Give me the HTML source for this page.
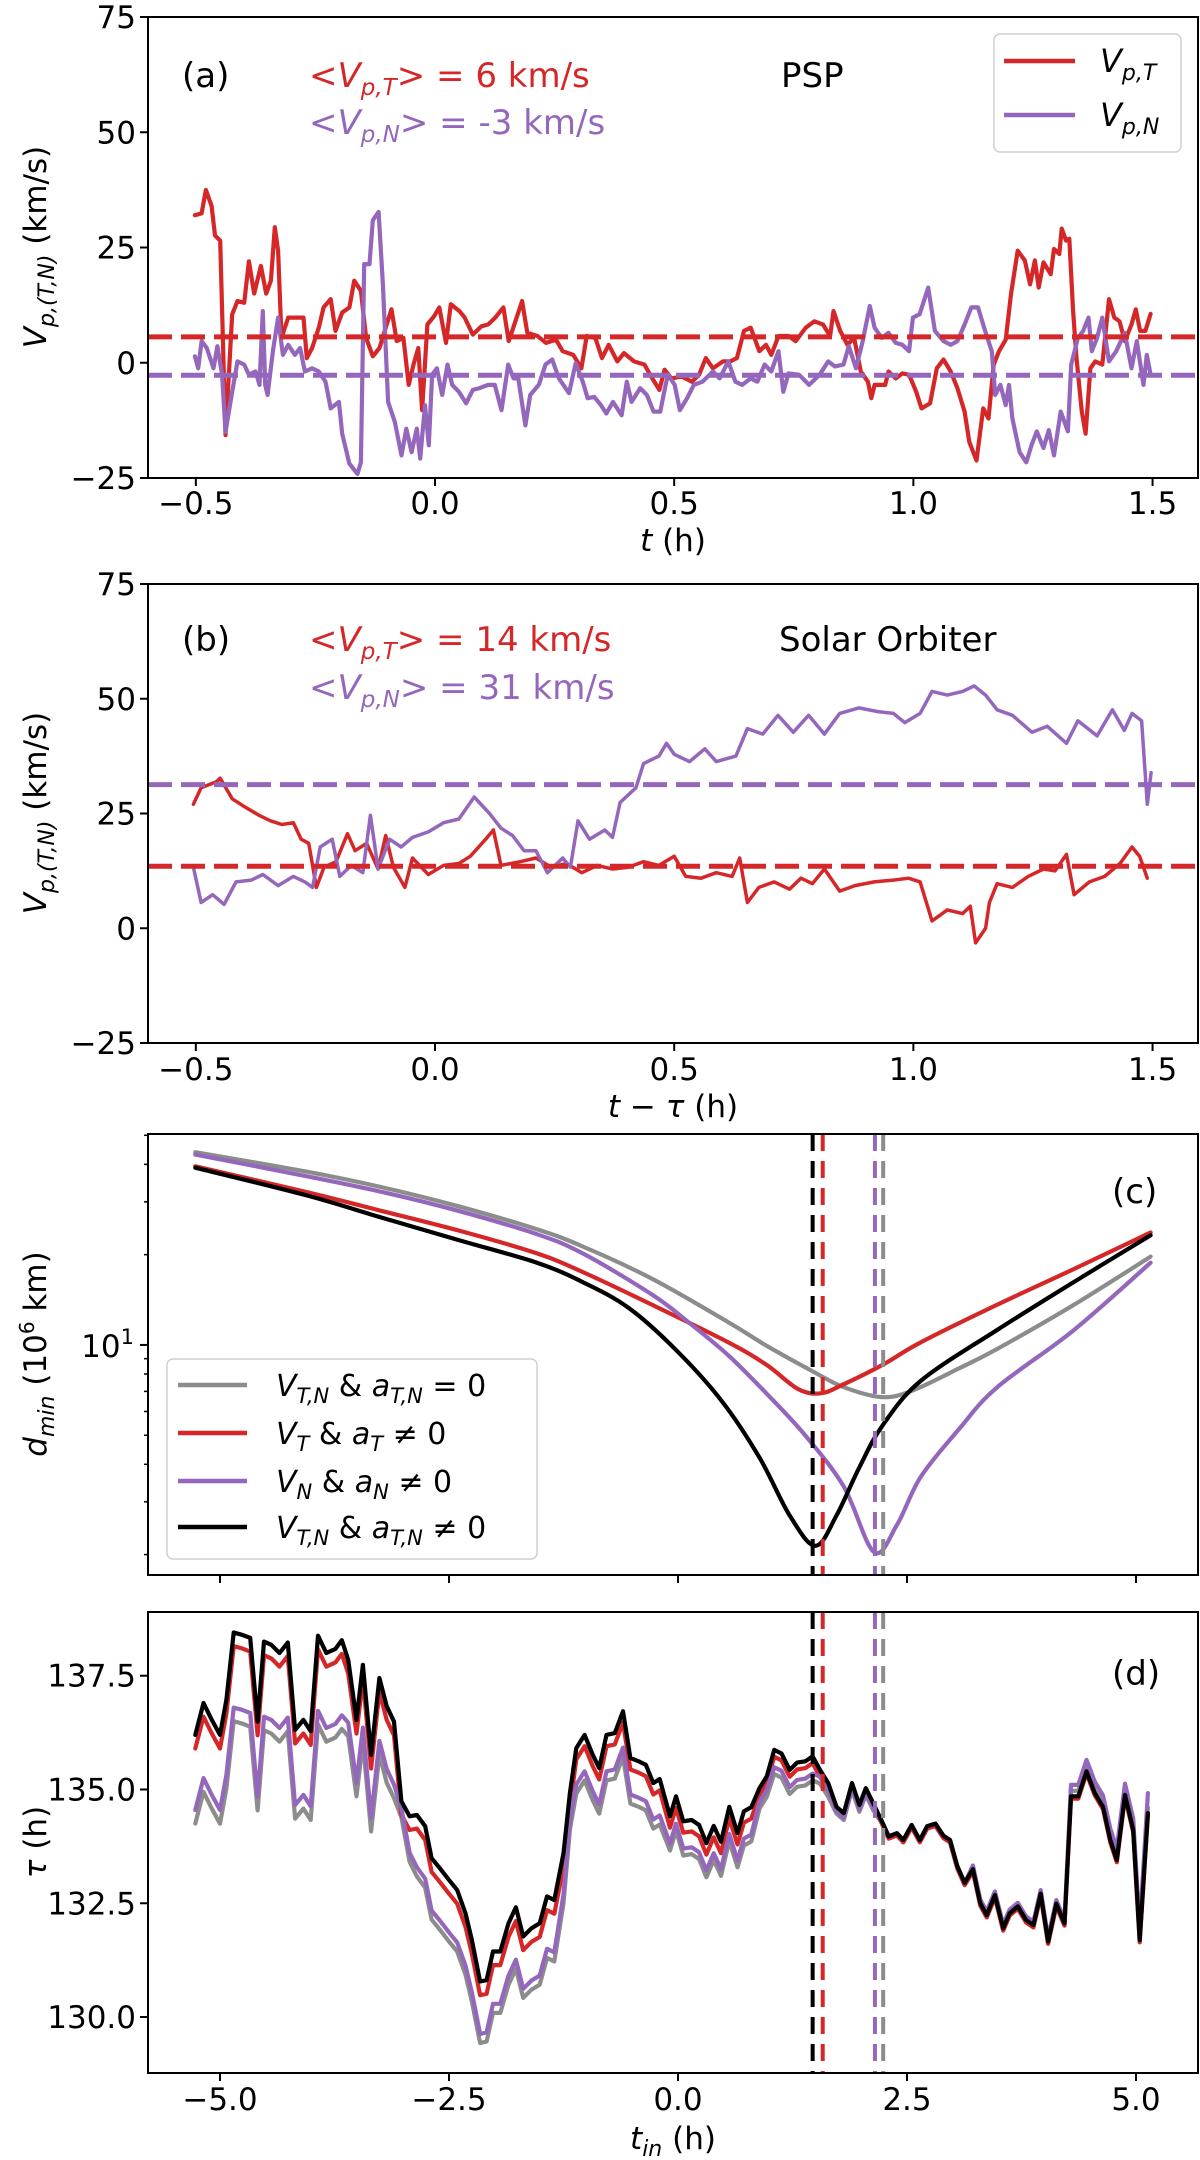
<!DOCTYPE html>
<html><head><meta charset="utf-8">
<style>
html,body{margin:0;padding:0;background:#fff;}
svg{display:block;font-family:"DejaVu Sans","Liberation Sans",sans-serif;}
</style></head>
<body>
<svg id="fig" xmlns="http://www.w3.org/2000/svg" width="1200" height="2160" viewBox="0 0 1200 2160">
<rect x="0" y="0" width="1200" height="2160" fill="#fff"/>
<g id="layer"></g>
<!-- static annotations -->
<g font-size="34">
<text x="182" y="87">(a)</text>
<text x="309" y="87" fill="#d62728">&lt;<tspan font-style="italic">V</tspan><tspan font-style="italic" font-size="23" dy="8">p,T</tspan><tspan dy="-8">&gt; = 6 km/s</tspan></text>
<text x="309" y="134" fill="#9467bd">&lt;<tspan font-style="italic">V</tspan><tspan font-style="italic" font-size="23" dy="8">p,N</tspan><tspan dy="-8">&gt; = -3 km/s</tspan></text>
<text x="781" y="87">PSP</text>
<text x="182" y="651">(b)</text>
<text x="309" y="651" fill="#d62728">&lt;<tspan font-style="italic">V</tspan><tspan font-style="italic" font-size="23" dy="8">p,T</tspan><tspan dy="-8">&gt; = 14 km/s</tspan></text>
<text x="309" y="699" fill="#9467bd">&lt;<tspan font-style="italic">V</tspan><tspan font-style="italic" font-size="23" dy="8">p,N</tspan><tspan dy="-8">&gt; = 31 km/s</tspan></text>
<text x="779" y="651">Solar Orbiter</text>
<text x="1112" y="1203">(c)</text>
<text x="1112" y="1685">(d)</text>
</g>
<g font-size="31">
<text x="673" y="551" text-anchor="middle"><tspan font-style="italic">t</tspan> (h)</text>
<text x="673" y="1117" text-anchor="middle"><tspan font-style="italic">t</tspan> − <tspan font-style="italic">τ</tspan> (h)</text>
<text x="673" y="2149" text-anchor="middle"><tspan font-style="italic">t</tspan><tspan font-style="italic" font-size="22" dy="7">in</tspan><tspan dy="-7"> (h)</tspan></text>
<text transform="translate(46,247) rotate(-90)" text-anchor="middle"><tspan font-style="italic">V</tspan><tspan font-style="italic" font-size="22" dy="8">p,(T,N)</tspan><tspan dy="-8"> (km/s)</tspan></text>
<text transform="translate(46,813) rotate(-90)" text-anchor="middle"><tspan font-style="italic">V</tspan><tspan font-style="italic" font-size="22" dy="8">p,(T,N)</tspan><tspan dy="-8"> (km/s)</tspan></text>
<text transform="translate(46,1354) rotate(-90)" text-anchor="middle"><tspan font-style="italic">d</tspan><tspan font-style="italic" font-size="22" dy="8">min</tspan><tspan dy="-8"> (10</tspan><tspan font-size="20" dy="-12">6</tspan><tspan dy="12"> km)</tspan></text>
<text transform="translate(46,1842) rotate(-90)" text-anchor="middle"><tspan font-style="italic">τ</tspan> (h)</text>
</g>
<!-- legend a -->
<g>
<rect x="994" y="34" width="187" height="118" rx="6" fill="#fff" fill-opacity="0.85" stroke="#d0d0d0" stroke-width="1.5"/>
<line x1="1004" y1="61" x2="1075" y2="61" stroke="#d62728" stroke-width="4.5"/>
<text x="1100" y="72" font-size="32" font-style="italic">V<tspan font-size="22" dy="8">p,T</tspan></text>
<line x1="1004" y1="115" x2="1075" y2="115" stroke="#9467bd" stroke-width="4.5"/>
<text x="1100" y="126" font-size="32" font-style="italic">V<tspan font-size="22" dy="8">p,N</tspan></text>
</g>
<!-- legend c -->
<g font-size="30">
<rect x="167" y="1359" width="370" height="200" rx="6" fill="#fff" fill-opacity="0.85" stroke="#d0d0d0" stroke-width="1.5"/>
<line x1="178" y1="1385" x2="247" y2="1385" stroke="#8c8c8c" stroke-width="4.5"/>
<text x="276" y="1396"><tspan font-style="italic">V</tspan><tspan font-style="italic" font-size="21" dy="7">T,N</tspan><tspan dy="-7"> &amp; </tspan><tspan font-style="italic">a</tspan><tspan font-style="italic" font-size="21" dy="7">T,N</tspan><tspan dy="-7"> = 0</tspan></text>
<line x1="178" y1="1433" x2="247" y2="1433" stroke="#d62728" stroke-width="4.5"/>
<text x="276" y="1444"><tspan font-style="italic">V</tspan><tspan font-style="italic" font-size="21" dy="7">T</tspan><tspan dy="-7"> &amp; </tspan><tspan font-style="italic">a</tspan><tspan font-style="italic" font-size="21" dy="7">T</tspan><tspan dy="-7"> ≠ 0</tspan></text>
<line x1="178" y1="1481" x2="247" y2="1481" stroke="#9467bd" stroke-width="4.5"/>
<text x="276" y="1492"><tspan font-style="italic">V</tspan><tspan font-style="italic" font-size="21" dy="7">N</tspan><tspan dy="-7"> &amp; </tspan><tspan font-style="italic">a</tspan><tspan font-style="italic" font-size="21" dy="7">N</tspan><tspan dy="-7"> ≠ 0</tspan></text>
<line x1="178" y1="1527" x2="247" y2="1527" stroke="#000" stroke-width="4.5"/>
<text x="276" y="1538"><tspan font-style="italic">V</tspan><tspan font-style="italic" font-size="21" dy="7">T,N</tspan><tspan dy="-7"> &amp; </tspan><tspan font-style="italic">a</tspan><tspan font-style="italic" font-size="21" dy="7">T,N</tspan><tspan dy="-7"> ≠ 0</tspan></text>
</g>
</svg>
<script>
// ---------- panel (a) PSP ----------
const tA_T=[-0.502,-0.488,-0.479,-0.467,-0.460,-0.449,-0.438,-0.424,-0.413,-0.399,-0.389,-0.378,-0.364,-0.353,-0.343,-0.335,-0.328,-0.321,-0.307,-0.293,-0.275,-0.268,-0.257,-0.243,-0.233,-0.218,-0.208,-0.194,-0.179,-0.169,-0.155,-0.144,-0.130,-0.116,-0.101,-0.091,-0.080,-0.066,-0.055,-0.045,-0.035,-0.027,-0.016,-0.002,0.009,0.023,0.033,0.051,0.062,0.079,0.097,0.111,0.126,0.143,0.154,0.168,0.182,0.193,0.214,0.232,0.253,0.267,0.289,0.306,0.317,0.335,0.349,0.363,0.381,0.395,0.416,0.438,0.452,0.469,0.480,
0.494,0.516,0.537,0.552,0.566,0.581,0.602,0.617,0.631,0.646,0.660,0.678,0.692,0.703,0.718,0.739,0.754,0.775,0.793,0.811,0.826,0.833,0.847,0.862,0.876,0.890,0.905,0.912,0.919,0.941,0.948,0.963,0.977,0.991,1.006,1.017,1.035,1.049,1.063,1.078,1.092,1.107,1.117,1.132,1.146,1.157,1.168,1.179,1.193,1.204,1.218,1.233,1.244,1.254,1.262,1.272,1.287,1.294,1.305,1.310,1.319,1.326,1.334,1.341,1.352,1.360,1.370,1.380,1.395,1.409,1.420,1.431,1.442,1.456,1.465,1.474,1.485,1.496];
const vA_T=[32,32.4,37.5,34,27.6,26.5,-15.7,10.5,13.4,13,22,15,21,15,17.8,29.4,24.3,5.4,9.8,9.8,9.8,1,3.2,7.6,12,13.8,6.9,10.9,12,17.8,15.6,5.4,1.4,3.2,8.3,11.6,4.7,5.4,-4.8,-0.4,3.2,-10.3,8.3,10.1,12,4.3,12.7,11.2,9.8,6.1,7.9,8.3,9.8,12,4.7,9,13.4,6.5,5.8,4.3,5,2.5,1.7,-1.2,5.8,5.4,1,3.9,0.3,2.1,0.3,-0.4,-3,-5.9,-1.5,
-3.4,-3,-4.1,-2.6,1,-1.2,0.3,0.3,1,6.9,7.6,2.5,3.9,1.7,5.8,5.8,4.7,7.6,9,8.3,5.8,11.2,6.9,3.9,5.4,-1.9,-4.1,-7.7,-4.8,-4.8,-1.9,-3.4,-2.3,-2.6,-6.3,-9.9,-8.8,-1.2,0.7,-1.9,-5.5,-10.6,-17.2,-21.2,-9.9,-12.1,-0.4,2.5,5,14.9,24.3,22.2,17,22.2,16.3,21.8,19.2,24.7,23.6,29.1,26.5,26.9,11.2,1,-10.6,-15.4,-1.2,0.3,-0.4,13.8,9.8,9,4.7,8.3,11.6,6.9,6.9,10.6];
const tA_N=[-0.502,-0.495,-0.488,-0.477,-0.463,-0.455,-0.445,-0.438,-0.424,-0.413,-0.399,-0.389,-0.375,-0.367,-0.360,-0.355,-0.350,-0.339,-0.328,-0.318,-0.307,-0.293,-0.282,-0.272,-0.257,-0.243,-0.229,-0.218,-0.201,-0.194,-0.179,-0.162,-0.155,-0.148,-0.137,-0.130,-0.118,-0.109,-0.098,-0.084,-0.070,-0.060,-0.049,-0.038,-0.031,-0.021,-0.013,-0.006,0.004,0.015,0.026,0.036,0.050,0.065,0.079,0.093,0.111,0.125,0.139,0.153,0.164,0.174,0.189,0.199,0.217,0.231,0.245,0.259,0.280,0.294,0.309,0.319,0.333,0.347,0.358,0.372,0.390,0.401,0.411,0.429,0.443,0.457,0.471,0.482,
0.487,0.501,0.512,0.527,0.541,0.559,0.581,0.595,0.613,0.628,0.642,0.660,0.674,0.689,0.703,0.718,0.728,0.739,0.761,0.782,0.804,0.822,0.836,0.854,0.865,0.880,0.894,0.909,0.919,0.934,0.948,0.963,0.977,0.991,0.999,1.013,1.031,1.045,1.063,1.078,1.092,1.107,1.121,1.135,1.150,1.164,1.171,1.182,1.193,1.200,1.207,1.222,1.236,1.247,1.258,1.272,1.283,1.294,1.308,1.323,1.330,1.344,1.355,1.366,1.373,1.384,1.395,1.409,1.424,1.442,1.456,1.467,1.481,1.488,1.496];
const vA_N=[1.4,-1.2,4.7,3.2,-1.2,3.6,-2.6,-15,-6.3,0.3,-0.4,-2.6,-1.9,-4.8,11.2,-4.8,-7,2.5,9.8,1.7,3.9,1.7,3.2,-1.9,-1.2,-1.9,-4.1,-9.9,-8.5,-15.4,-21.9,-24.1,-21.6,21.4,21.4,30.9,32.7,17,-8.5,-12.8,-20.1,-14.3,-19.4,-14.3,-20.8,-9.2,-17.9,-2.6,-1.2,-7,-0.4,-4.8,-6.3,-8.8,-5.9,-5.5,-4.8,-4.8,-10.3,-0.4,-3.4,-3.4,-13.6,-7,-4.8,-0.4,0.7,-3.4,-6.6,-0.1,-4.1,-7.7,-7.4,-9.2,-11,-8.5,-11.4,-4.1,-8.5,-5.5,-7,-10.6,-10.6,-4.8,
-2.6,-4.8,-10.3,-7.7,-4.8,-4.1,-1.9,-3.4,0.3,-4.1,-4.8,-3.4,-4.1,-0.4,-1.9,2.5,-6.3,-2.3,-2.6,-4.8,-2.6,0.3,-0.8,-0.4,3.6,-1.2,4.7,12.3,7.6,5.4,6.5,4.3,3.9,2.5,9.8,10.5,16.3,6.9,4.7,3.9,4.7,8.3,12,12,6.9,2.5,-7,-4.8,-9.2,-4.8,-12.1,-19.4,-21.6,-17.9,-14.9,-18.5,-14.6,-20.1,-10.6,-14.9,-0.4,5.4,6.9,9.8,2.5,5.4,9.8,0.3,2.5,6.5,-1.2,4.7,-4.8,1.7,-2.6];
const meanA=[5.6,-2.7];
// ---------- panel (b) Solar Orbiter ----------
const tB_T=[-0.505,-0.489,-0.457,-0.449,-0.424,-0.400,-0.368,-0.344,-0.320,-0.296,-0.280,-0.264,-0.248,-0.232,-0.207,-0.183,-0.167,-0.143,-0.119,-0.103,-0.087,-0.063,-0.047,-0.014,0.018,0.050,0.074,0.106,0.122,0.138,0.178,0.211,0.243,0.275,0.307,0.339,0.371,0.404,0.436,0.468,0.500,0.524,0.556,0.588,0.621,0.637,0.653,0.677,0.709,0.741,0.765,0.789,0.814,0.846,0.878,0.918,0.958,0.990,1.014,1.039,1.071,1.103,1.119,1.130,1.151,1.159,1.175,1.207,1.240,1.272,1.296,1.320,1.336,1.368,1.400,1.432,1.457,1.473,1.489];
const vB_T=[27,30.6,31.9,32.7,28.2,26.6,24.6,23.4,22.6,23,19.4,18.5,8.9,13.3,14.5,20.6,16.9,18.5,12.9,20.2,13.3,8.9,15.3,11.7,13.7,14.1,15.7,19.4,21.4,13.7,14.5,15.3,13.3,14.1,12.1,13.7,12.9,13.3,14.5,13.7,15.7,11.3,10.9,12.1,11.3,15.3,5.6,8.9,10.1,8.5,10.9,9.7,12.9,8.1,9.3,10.1,10.5,10.9,10.1,1.6,4,3.2,4.8,-3.2,0,5.6,9.7,8.9,11.3,12.9,12.5,16.1,7.3,10.1,11.3,14.1,17.7,15.7,10.9];
const tB_N=[-0.505,-0.489,-0.465,-0.441,-0.416,-0.384,-0.360,-0.328,-0.296,-0.272,-0.256,-0.240,-0.215,-0.199,-0.175,-0.151,-0.135,-0.119,-0.095,-0.071,-0.047,-0.014,0.018,0.050,0.082,0.114,0.138,0.162,0.186,0.211,0.235,0.267,0.283,0.299,0.323,0.355,0.371,0.387,0.420,0.436,0.468,0.484,0.500,0.532,0.564,0.588,0.629,0.653,0.685,0.717,0.749,0.781,0.814,0.846,0.886,0.926,0.958,0.982,1.014,1.039,1.071,1.103,1.127,1.151,1.175,1.207,1.248,1.280,1.320,1.344,1.384,1.416,1.441,1.457,1.477,1.489,1.497];
const vB_N=[13.3,5.6,7.3,5.2,10.1,10.5,11.7,9.3,11.3,10.1,8.9,17.7,19.4,11.3,13.7,12.1,24.6,12.9,19.4,17.7,19.8,21,23,23.8,28.6,25,21.8,20.2,16.9,16.9,12.1,15.3,13.3,23.4,19.4,21.4,19.8,27.4,30.6,35.9,37.5,40.3,37.9,36.3,39.1,36.3,37.5,43.5,42.3,46.4,42.7,46.4,42.3,46.8,48,47.2,46.8,44.8,46.8,51.6,50.8,51.6,52.8,50.8,47.6,46.4,42.7,44,40.3,45.2,41.9,47.6,43.1,46.8,45.2,27,33.9];
const meanB=[13.5,31.3];
const ticksAB_x=[-0.5,0.0,0.5,1.0,1.5];
const tickLabelsAB_x=["−0.5","0.0","0.5","1.0","1.5"];
const ticksAB_y=[-25,0,25,50,75];
const tickLabelsAB_y=["−25","0","25","50","75"];
// ---------- panel (c) d_min ----------
const tC_gray=[-5.27,-4.05,-3.22,-2.38,-1.54,-1.04,-0.28,0.55,0.97,1.47,1.81,2.23,2.56,3.07,3.48,4.32,5.16];
const vC_gray=[43.9,37.8,33.5,28.9,24.3,21.3,16.6,11.9,9.93,8.17,7.23,6.70,7.05,8.36,9.68,13.6,19.7];
const tC_red=[-5.27,-4.05,-3.22,-2.38,-1.54,-1.04,-0.28,0.55,0.97,1.31,1.56,1.81,2.23,2.65,3.48,4.32,5.16];
const vC_red=[39.4,32.3,27.9,24.0,20.2,17.5,13.6,10.2,8.57,7.13,6.90,7.40,8.57,10.2,13.6,17.9,23.7];
const tC_purple=[-5.27,-4.05,-3.22,-2.38,-1.54,-1.04,-0.28,0.13,0.55,0.97,1.39,1.81,2.14,2.39,2.65,3.07,3.48,4.32,5.16];
const vC_purple=[43.1,36.5,32.3,27.9,23.4,20.2,14.7,11.8,9.23,6.87,4.99,3.37,2.04,2.51,3.63,5.25,7.21,11.2,18.8];
const tC_black=[-5.27,-4.05,-3.22,-2.38,-1.54,-1.04,-0.54,-0.03,0.47,0.89,1.22,1.50,1.73,1.98,2.23,2.65,3.48,4.32,5.16];
const vC_black=[39.0,31.5,26.5,22.3,18.8,16.2,13.3,9.68,6.55,4.21,2.70,2.14,2.70,3.91,5.37,7.59,11.2,16.2,23.2];
const minTimes=[1.47,1.58,2.15,2.24];
const ticksCD_x=[-5,-2.5,0,2.5,5];
const tickLabelsD_x=["−5.0","−2.5","0.0","2.5","5.0"];
// ---------- panel (d) tau ----------
const tD=[-5.27,-5.18,-5.09,-5.00,-4.93,-4.85,-4.76,-4.67,-4.59,-4.52,-4.44,-4.35,-4.26,-4.18,-4.09,-4.01,-3.93,-3.84,-3.74,-3.67,-3.60,-3.51,-3.44,-3.35,-3.26,-3.18,-3.10,-3.02,-2.93,-2.85,-2.76,-2.69,-2.60,-2.50,-2.41,-2.32,-2.25,-2.16,-2.09,-2.02,-1.94,-1.85,-1.77,-1.69,-1.60,-1.51,-1.43,-1.35,-1.25,-1.18,-1.11,-1.02,-0.93,-0.86,-0.78,-0.69,-0.60,-0.52,-0.43,-0.35,-0.27,-0.20,
-0.087,-0.022,0.058,0.15,0.23,0.31,0.39,0.47,0.56,0.65,0.72,0.80,0.89,0.97,1.05,1.13,1.22,1.30,1.39,1.47,1.55,1.64,1.73,1.81,1.90,1.98,2.05,2.13,2.22,2.30,2.39,2.46,2.55,2.64,2.72,2.81,2.90,2.97,3.05,3.13,3.22,3.30,3.37,3.46,3.55,3.62,3.71,3.80,3.88,3.96,4.04,4.13,4.22,4.29,4.37,4.46,4.55,4.64,4.72,4.79,4.88,4.97,5.04,5.13];
const vD_black=[136.20,136.90,136.53,136.20,136.97,138.45,138.40,138.33,136.49,138.25,138.18,138.00,138.23,136.31,136.53,136.28,138.38,138.00,138.09,138.28,137.85,136.53,137.74,135.76,137.45,136.83,136.49,134.74,134.41,134.44,134.19,133.49,133.27,133.01,132.79,132.28,131.69,130.78,130.81,131.44,131.44,132.06,132.41,131.77,131.95,132.06,132.65,132.57,133.60,134.92,135.91,136.20,135.76,135.47,136.20,136.24,136.72,135.69,135.62,135.54,135.14,135.23,
134.41,134.85,134.30,134.33,134.22,133.82,134.20,133.85,134.62,134.04,134.52,134.61,135.03,135.29,135.87,135.79,135.43,135.59,135.62,135.73,135.43,135.14,134.62,134.48,135.14,134.66,135.03,134.70,134.33,133.97,134.04,133.89,134.22,133.89,134.19,134.25,133.98,133.89,133.31,132.95,133.25,132.50,132.24,132.68,131.95,132.28,132.43,132.13,132.02,132.71,131.66,132.49,132.06,134.85,134.85,135.40,134.92,134.62,133.89,133.45,134.88,134.11,131.69,134.48];
const vD_red=[135.90,136.60,136.23,135.90,136.67,138.15,138.10,138.03,136.19,137.95,137.88,137.70,137.93,136.01,136.23,135.98,138.08,137.70,137.79,137.98,137.55,136.23,137.44,135.46,137.15,136.53,136.19,134.44,134.11,134.14,133.89,133.19,132.97,132.71,132.49,131.98,131.39,130.48,130.51,131.14,131.14,131.76,132.11,131.47,131.65,131.76,132.35,132.27,133.30,134.62,135.66,135.95,135.51,135.22,135.95,135.99,136.47,135.44,135.37,135.29,134.89,134.98,
134.16,134.60,134.05,134.08,133.97,133.57,133.95,133.60,134.37,133.79,134.27,134.36,134.88,135.14,135.72,135.64,135.28,135.44,135.47,135.58,135.28,134.99,134.57,134.43,135.09,134.61,134.98,134.65,134.28,133.92,133.99,133.84,134.17,133.84,134.14,134.20,133.93,133.84,133.26,132.90,133.20,132.45,132.19,132.63,131.90,132.23,132.38,132.08,131.97,132.66,131.61,132.44,132.01,134.80,134.80,135.35,134.87,134.57,133.84,133.40,134.83,134.06,131.64,134.43];
const vD_purple=[134.55,135.25,134.88,134.55,135.32,136.80,136.75,136.68,134.84,136.60,136.53,136.35,136.58,134.66,134.88,134.63,136.73,136.35,136.44,136.63,136.47,135.15,136.36,134.38,136.07,135.45,135.11,134.59,133.61,133.29,133.04,132.34,132.12,131.86,131.64,131.13,130.54,129.63,129.66,130.29,130.29,130.91,131.26,130.62,130.80,130.91,131.50,131.42,132.70,134.32,135.11,135.40,134.96,134.67,135.40,135.44,135.92,134.89,134.82,134.74,134.34,134.43,
133.81,134.25,133.70,133.73,133.62,133.22,133.60,133.25,134.02,133.44,133.92,134.01,134.73,134.99,135.49,135.41,135.05,135.21,135.24,135.35,135.28,134.99,134.52,134.38,135.04,134.56,134.93,134.60,134.33,133.97,134.04,133.89,134.22,133.89,134.19,134.25,133.98,133.89,133.31,132.95,133.33,132.58,132.32,132.76,132.03,132.36,132.51,132.21,132.10,132.79,131.74,132.57,132.14,135.10,135.10,135.65,135.17,134.87,134.14,133.70,135.13,134.36,131.94,134.92];
const vD_gray=[134.25,134.95,134.58,134.25,135.02,136.50,136.45,136.38,134.54,136.30,136.23,136.05,136.28,134.36,134.58,134.33,136.43,136.05,136.14,136.33,136.17,134.85,136.06,134.08,135.77,135.15,134.81,134.39,133.41,133.09,132.84,132.14,131.92,131.66,131.44,130.93,130.34,129.43,129.46,130.09,130.09,130.71,131.06,130.42,130.60,130.71,131.30,131.22,132.50,134.12,134.91,135.20,134.76,134.47,135.20,135.24,135.72,134.69,134.62,134.54,134.14,134.23,
133.66,134.10,133.55,133.58,133.47,133.07,133.45,133.10,133.87,133.29,133.77,133.86,134.58,134.84,135.34,135.26,134.90,135.06,135.09,135.20,135.13,134.84,134.47,134.33,134.99,134.51,134.88,134.55,134.28,133.92,133.99,133.84,134.17,133.84,134.14,134.20,133.93,133.84,133.26,132.90,133.20,132.45,132.19,132.63,131.90,132.23,132.38,132.08,131.97,132.66,131.61,132.44,132.01,134.97,134.97,135.52,135.04,134.74,134.01,133.57,135.00,134.23,131.81,134.60];
const ticksD_y=[130.0,132.5,135.0,137.5];
const tickLabelsD_y=["130.0","132.5","135.0","137.5"];
const minorC=[2,3,4,5,6,7,8,9,20,30,40,50];

const NS="http://www.w3.org/2000/svg";
const root=document.getElementById('layer');
const COL={red:"#d62728",purple:"#9467bd",gray:"#8c8c8c",black:"#000000"};
function mk(tag,parent){const e=document.createElementNS(NS,tag);parent.appendChild(e);return e;}

function makeAxes(id,y0,y1,xmin,xmax,ymin,ymax,log){
  const ax={x0:148,x1:1198,y0:y0,y1:y1,xmin:xmin,xmax:xmax,ymin:ymin,ymax:ymax,log:log};
  ax.X=v=>ax.x0+(v-xmin)/(xmax-xmin)*(ax.x1-ax.x0);
  ax.Y=log?(v=>ax.y1-(Math.log10(v)-Math.log10(ymin))/(Math.log10(ymax)-Math.log10(ymin))*(ax.y1-ax.y0))
          :(v=>ax.y1-(v-ymin)/(ymax-ymin)*(ax.y1-ax.y0));
  const g=mk('g',root);
  
  
  const cp=mk('clipPath',g); cp.setAttribute('id','clip-'+id);
  const cr=mk('rect',cp); cr.setAttribute('x',ax.x0);cr.setAttribute('y',ax.y0);cr.setAttribute('width',ax.x1-ax.x0);cr.setAttribute('height',ax.y1-ax.y0);
  ax.g=g;
  ax.plot=mk('g',g); ax.plot.setAttribute('clip-path','url(#clip-'+id+')');
  
  
  return ax;
}
function frame(ax,id){
  const r=mk('rect',ax.g);
  
  
  r.setAttribute('x',ax.x0);r.setAttribute('y',ax.y0);r.setAttribute('width',ax.x1-ax.x0);r.setAttribute('height',ax.y1-ax.y0);
  r.setAttribute('fill','none');r.setAttribute('stroke','#000');r.setAttribute('stroke-width','2');
}
function xTicks(ax,id,ticks,labels,ly){
  ticks.forEach((t,i)=>{
    const x=ax.X(t);
    const l=mk('line',ax.g);
    
    
    l.setAttribute('x1',x);l.setAttribute('x2',x);l.setAttribute('y1',ax.y1);l.setAttribute('y2',ax.y1+8);
    l.setAttribute('stroke','#000');l.setAttribute('stroke-width','2');
    if(labels){
      const tx=mk('text',ax.g);
      
      
      tx.setAttribute('x',x);tx.setAttribute('y',ly);tx.setAttribute('text-anchor','middle');tx.setAttribute('font-size','31');
      tx.textContent=labels[i];
    }
  });
}
function yTicks(ax,id,ticks,labels){
  ticks.forEach((v,i)=>{
    const y=ax.Y(v);
    const l=mk('line',ax.g);
    
    
    l.setAttribute('x1',ax.x0-8);l.setAttribute('x2',ax.x0);l.setAttribute('y1',y);l.setAttribute('y2',y);
    l.setAttribute('stroke','#000');l.setAttribute('stroke-width','2');
    const tx=mk('text',ax.g);
    
    
    tx.setAttribute('x',ax.x0-12);tx.setAttribute('y',y+11);tx.setAttribute('text-anchor','end');tx.setAttribute('font-size','31');
    tx.textContent=labels[i];
  });
}
function line(ax,name,ts,vs,color,w,smooth){
  const pts=ts.map((t,i)=>[ax.X(t),ax.Y(vs[i])]);
  let d='M'+pts[0][0].toFixed(1)+','+pts[0][1].toFixed(1);
  if(smooth){
    for(let i=0;i<pts.length-1;i++){
      const p0=pts[Math.max(0,i-1)],p1=pts[i],p2=pts[i+1],p3=pts[Math.min(pts.length-1,i+2)];
      const c1=[p1[0]+(p2[0]-p0[0])/6,p1[1]+(p2[1]-p0[1])/6];
      const c2=[p2[0]-(p3[0]-p1[0])/6,p2[1]-(p3[1]-p1[1])/6];
      d+=' C'+c1[0].toFixed(1)+','+c1[1].toFixed(1)+' '+c2[0].toFixed(1)+','+c2[1].toFixed(1)+' '+p2[0].toFixed(1)+','+p2[1].toFixed(1);
    }
  } else {
    for(let i=1;i<pts.length;i++) d+=' L'+pts[i][0].toFixed(1)+','+pts[i][1].toFixed(1);
  }
  const p=mk('path',ax.plot);
  
  
  p.setAttribute('d',d);p.setAttribute('fill','none');p.setAttribute('stroke',color);
  p.setAttribute('stroke-width',w);p.setAttribute('stroke-linejoin','round');p.setAttribute('stroke-linecap','round');
}
function hline(ax,name,v,color){
  const l=mk('line',ax.plot);
  
  
  const y=ax.Y(v);
  l.setAttribute('x1',ax.x0);l.setAttribute('x2',ax.x1);l.setAttribute('y1',y);l.setAttribute('y2',y);
  l.setAttribute('stroke',color);l.setAttribute('stroke-width','5');l.setAttribute('stroke-dasharray','24 9');
}
function vline(ax,name,t,color){
  const l=mk('line',ax.plot);
  
  
  const x=ax.X(t);
  l.setAttribute('x1',x);l.setAttribute('x2',x);l.setAttribute('y1',ax.y0);l.setAttribute('y2',ax.y1);
  l.setAttribute('stroke',color);l.setAttribute('stroke-width','4');l.setAttribute('stroke-dasharray','17 10');
}

// Panel a
const A=makeAxes('a',17,478,-0.6,1.595,-25,75,false);
line(A,'series-vpt-psp',tA_T,vA_T,COL.red,4.2,false);
line(A,'series-vpn-psp',tA_N,vA_N,COL.purple,4.2,false);
hline(A,'mean-line-vpt-psp',meanA[0],COL.red);
hline(A,'mean-line-vpn-psp',meanA[1],COL.purple);
frame(A,'a');xTicks(A,'a',ticksAB_x,tickLabelsAB_x,514);yTicks(A,'a',ticksAB_y,tickLabelsAB_y);
// Panel b
const B=makeAxes('b',584,1043,-0.6,1.595,-25,75,false);
line(B,'series-vpt-solo',tB_T,vB_T,COL.red,3.5,false);
line(B,'series-vpn-solo',tB_N,vB_N,COL.purple,3.5,false);
hline(B,'mean-line-vpt-solo',meanB[0],COL.red);
hline(B,'mean-line-vpn-solo',meanB[1],COL.purple);
frame(B,'b');xTicks(B,'b',ticksAB_x,tickLabelsAB_x,1080);yTicks(B,'b',ticksAB_y,tickLabelsAB_y);
// Panel c
const C=makeAxes('c',1134,1575,-5.786,5.677,1.71,50.5,true);
line(C,'series-dmin-gray',tC_gray,vC_gray,COL.gray,4.2,true);
line(C,'series-dmin-red',tC_red,vC_red,COL.red,4.2,true);
line(C,'series-dmin-purple',tC_purple,vC_purple,COL.purple,4.2,true);
line(C,'series-dmin-black',tC_black,vC_black,COL.black,4.2,true);
vline(C,'min-line-black-c',minTimes[0],COL.black);
vline(C,'min-line-red-c',minTimes[1],COL.red);
vline(C,'min-line-purple-c',minTimes[2],COL.purple);
vline(C,'min-line-gray-c',minTimes[3],COL.gray);
frame(C,'c');xTicks(C,'c',ticksCD_x,null,0);
yTicks(C,'c',[10],['']);
minorC.forEach(v=>{
  const y=C.Y(v);
  const l=mk('line',C.g);
  
  
  l.setAttribute('x1',C.x0-4);l.setAttribute('x2',C.x0);l.setAttribute('y1',y);l.setAttribute('y2',y);
  l.setAttribute('stroke','#000');l.setAttribute('stroke-width','1.5');
});
const lab10=mk('text',C.g);


lab10.setAttribute('x',C.x0-14);lab10.setAttribute('y',C.Y(10)+12);lab10.setAttribute('text-anchor','end');lab10.setAttribute('font-size','31');
lab10.innerHTML='10<tspan font-size="21" dy="-13">1</tspan>';
// Panel d
const D=makeAxes('d',1612,2073,-5.786,5.677,128.77,138.9,false);
line(D,'series-tau-gray',tD,vD_gray,COL.gray,4.2,false);
line(D,'series-tau-red',tD,vD_red,COL.red,4.2,false);
line(D,'series-tau-purple',tD,vD_purple,COL.purple,4.2,false);
line(D,'series-tau-black',tD,vD_black,COL.black,4.2,false);
vline(D,'min-line-black-d',minTimes[0],COL.black);
vline(D,'min-line-red-d',minTimes[1],COL.red);
vline(D,'min-line-purple-d',minTimes[2],COL.purple);
vline(D,'min-line-gray-d',minTimes[3],COL.gray);
frame(D,'d');xTicks(D,'d',ticksCD_x,tickLabelsD_x,2110);yTicks(D,'d',ticksD_y,tickLabelsD_y);
// bring static text groups above plot
const svgEl=document.getElementById('fig');
Array.from(svgEl.children).forEach(c=>{ if(c.tagName==='g' && c.id!=='layer') svgEl.appendChild(c); });
</script>
</body></html>
